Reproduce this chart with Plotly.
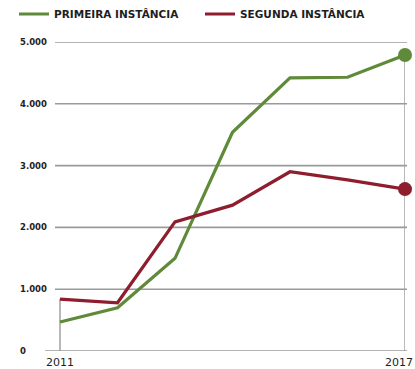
import plotly.graph_objects as go

# Processos por ano, por instância
anos = [2011, 2012, 2013, 2014, 2015, 2016, 2017]
primeira_instancia = [470, 700, 1500, 3540, 4420, 4430, 4790]
segunda_instancia = [840, 780, 2090, 2360, 2900, 2770, 2620]

y_ticks = [0, 1000, 2000, 3000, 4000, 5000]
y_tick_labels = ["0", "1.000", "2.000", "3.000", "4.000", "5.000"]
x_ticks = [2011, 2017]
x_tick_labels = ["2011", "2017"]

VERDE = "#5f8a3a"
VERMELHO = "#8e1d2e"
CINZA = "#9a9a9a"
TEXTO = "#1e1e1e"
FONTE = "DejaVu Sans"

W, H = 415, 369
L, R, T, B = 45, 10, 42, 18
PLOT_W = W - L - R
x_first_px = 60
px_per_year = (W - 10 - x_first_px) / (anos[-1] - anos[0])
x_lo = anos[0] - (x_first_px - L) / px_per_year
x_hi = anos[-1]


def paper_x(px):
    return (px - L) / PLOT_W


fig = go.Figure()

# horizontal reference lines (gridlines and base line)
shapes = []
for v in y_ticks:
    x0 = paper_x(45) if v == 0 else paper_x(55)
    shapes.append(dict(type="line", xref="paper", yref="y", x0=x0, x1=paper_x(407),
                       y0=v, y1=v, line=dict(color=CINZA, width=1.6), layer="below"))

# vertical drop lines at the first and last year
shapes.append(dict(type="line", xref="x", yref="y", x0=anos[0], x1=anos[0],
                   y0=0, y1=segunda_instancia[0], line=dict(color=CINZA, width=1.4), layer="below"))
shapes.append(dict(type="line", xref="x", yref="y", x0=anos[-1], x1=anos[-1],
                   y0=0, y1=primeira_instancia[-1], line=dict(color=CINZA, width=1.4), layer="below"))

series = [
    ("PRIMEIRA INSTÂNCIA", primeira_instancia, VERDE, "legend"),
    ("SEGUNDA INSTÂNCIA", segunda_instancia, VERMELHO, "legend2"),
]
for nome, valores, cor, leg in series:
    fig.add_trace(go.Scatter(
        x=anos, y=valores, name=nome, mode="lines",
        line=dict(color=cor, width=3.2), cliponaxis=False, legend=leg,
    ))
    # end-of-series dot
    fig.add_trace(go.Scatter(
        x=anos[-1:], y=valores[-1:], mode="markers", showlegend=False,
        marker=dict(size=14, color=cor, opacity=1, line=dict(width=0)),
        cliponaxis=False,
    ))

annotations = []
for v, lab in zip(y_ticks, y_tick_labels):
    annotations.append(dict(
        xref="paper", yref="y", x=paper_x(18), y=v, text="<b>" + lab + "</b>",
        showarrow=False, xanchor="left", yanchor="middle",
        font=dict(family=FONTE, size=8.5, color=TEXTO),
    ))
annotations.append(dict(
    xref="x", yref="paper", x=x_ticks[0], y=0, yshift=-11, text=x_tick_labels[0],
    showarrow=False, xanchor="center", yanchor="middle",
    font=dict(family=FONTE, size=11, color=TEXTO),
))
annotations.append(dict(
    xref="x", yref="paper", x=x_ticks[1], y=0, yshift=-11, xshift=10, text=x_tick_labels[1],
    showarrow=False, xanchor="right", yanchor="middle",
    font=dict(family=FONTE, size=11, color=TEXTO),
))

leg_common = dict(
    orientation="h", xref="container", yref="container",
    yanchor="middle", xanchor="left", y=1 - 14 / H,
    font=dict(family=FONTE, size=10.5, color=TEXTO, weight="bold"),
    itemwidth=30, bgcolor="rgba(0,0,0,0)", borderwidth=0,
    tracegroupgap=0,
)

fig.update_layout(
    width=W, height=H,
    margin=dict(l=L, r=R, t=T, b=B),
    paper_bgcolor="white", plot_bgcolor="white",
    showlegend=True,
    legend=dict(leg_common, x=14 / W),
    legend2=dict(leg_common, x=200 / W),
    xaxis=dict(
        range=[x_lo, x_hi], showgrid=False, zeroline=False, showline=False,
        showticklabels=False, fixedrange=True,
    ),
    yaxis=dict(
        range=[0, 5000], showgrid=False, zeroline=False, showline=False,
        showticklabels=False, fixedrange=True,
    ),
    shapes=shapes,
    annotations=annotations,
)

fig.write_html("out.html")
